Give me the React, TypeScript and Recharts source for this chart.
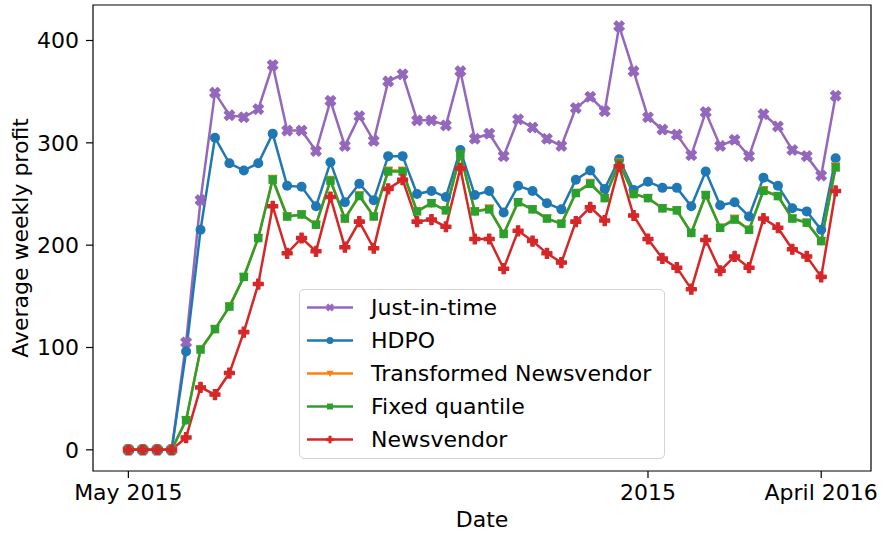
import React from 'react';
import { LineChart, Line, XAxis, YAxis, ReferenceArea, Legend } from 'recharts';

// weekly average profit per policy, first week = May 2015
const weekTicks = [0, 36, 48];
const weekTickLabels = ['May 2015', '2015', 'April 2016'];
const profitTicks = [0, 100, 200, 300, 400];

const justInTime = [
    0, 0, 0, 0, 105, 244, 349, 327, 325, 333,
    376, 312, 312, 292, 341, 297, 326, 302, 360, 367,
    322, 322, 317, 370, 304, 309, 287, 323, 315, 304,
    297, 334, 345, 331, 414, 370, 325, 313, 308, 288,
    330, 297, 303, 287, 328, 316, 293, 287, 268, 346,
];
const hdpo = [
    0, 0, 0, 0, 96, 215, 305, 280, 273, 280,
    309, 258, 257, 238, 281, 242, 260, 244, 287, 287,
    250, 253, 247, 293, 249, 253, 232, 258, 253, 241,
    235, 264, 273, 255, 284, 254, 262, 256, 256, 238,
    272, 239, 242, 228, 266, 258, 236, 233, 215, 285,
];
const transformedNewsvendor = [
    0, 0, 0, 0, 29, 98, 118, 140, 169, 207,
    265, 228, 230, 220, 264, 226, 249, 228, 273, 273,
    233, 241, 234, 289, 233, 236, 211, 242, 235, 226,
    221, 251, 261, 246, 281, 250, 246, 236, 234, 212,
    249, 217, 226, 215, 254, 248, 226, 222, 204, 277,
];
const fixedQuantile = [
    0, 0, 0, 0, 29, 98, 118, 140, 169, 207,
    264, 228, 230, 220, 263, 226, 248, 228, 272, 272,
    233, 241, 234, 289, 233, 235, 211, 242, 235, 226,
    221, 251, 260, 246, 280, 250, 246, 236, 234, 212,
    249, 217, 225, 215, 253, 248, 226, 222, 204, 276,
];
const newsvendor = [
    0, 0, 0, 0, 12, 61, 54, 75, 115, 162,
    238, 192, 207, 194, 247, 198, 223, 197, 255, 264,
    223, 225, 218, 275, 206, 206, 177, 214, 204, 192,
    183, 223, 237, 224, 277, 229, 206, 187, 178, 157,
    205, 175, 189, 178, 226, 217, 196, 189, 169, 253,
];

const data = justInTime.map((v, i) => ({
    week: i,
    jit: v,
    hdpo: hdpo[i],
    tnv: transformedNewsvendor[i],
    fq: fixedQuantile[i],
    nv: newsvendor[i],
}));

type Shape = 'x' | 'circle' | 'triangle' | 'square' | 'plus';

const series: { key: string; name: string; color: string; shape: Shape }[] = [
    { key: 'jit', name: 'Just-in-time', color: '#9467bd', shape: 'x' },
    { key: 'hdpo', name: 'HDPO', color: '#1f77b4', shape: 'circle' },
    { key: 'tnv', name: 'Transformed Newsvendor', color: '#ff7f0e', shape: 'triangle' },
    { key: 'fq', name: 'Fixed quantile', color: '#2ca02c', shape: 'square' },
    { key: 'nv', name: 'Newsvendor', color: '#d62728', shape: 'plus' },
];

const FONT = '"DejaVu Sans", sans-serif';
const tickStyle = { fontFamily: FONT, fontSize: 22, fill: '#000' };

// filled plus outline, half size s, arm half width s/3
const plusPoints = (s: number) => {
    const w = s / 3;
    return [
        [-w, -s], [w, -s], [w, -w], [s, -w], [s, w], [w, w],
        [w, s], [-w, s], [-w, w], [-s, w], [-s, -w], [-w, -w],
    ].map(([x, y]) => `${x},${y}`).join(' ');
};

const Marker = ({ shape, cx, cy, color, size = 10 }: { shape: Shape; cx: number; cy: number; color: string; size?: number }) => {
    const s = size / 2;
    const edge = size > 8 ? 1.2 : 0.6;
    if (cx == null || cy == null) return null;
    switch (shape) {
        case 'circle':
            return <circle cx={cx} cy={cy} r={s} fill={color} />;
        case 'square':
            return <rect x={cx - s * 0.85} y={cy - s * 0.85} width={s * 1.7} height={s * 1.7} fill={color} />;
        case 'triangle':
            return <polygon points={`${cx - s},${cy - s * 0.8} ${cx + s},${cy - s * 0.8} ${cx},${cy + s}`} fill={color} />;
        case 'plus':
            return (
                <polygon
                    transform={`translate(${cx},${cy})`}
                    points={plusPoints(s)}
                    fill={color}
                    stroke={color}
                    strokeWidth={edge}
                    strokeLinejoin="round"
                />
            );
        case 'x':
            return (
                <polygon
                    transform={`translate(${cx},${cy}) rotate(45)`}
                    points={plusPoints(s * 1.1)}
                    fill={color}
                    stroke={color}
                    strokeWidth={edge}
                    strokeLinejoin="round"
                />
            );
    }
    return null;
};

const renderLegend = () => (
    <div
        style={{
            boxSizing: 'border-box',
            width: 366,
            height: 170,
            border: '1.5px solid #d4d4d4',
            borderRadius: 5,
            background: 'rgba(255,255,255,0.8)',
            paddingTop: 1,
            fontFamily: FONT,
            fontSize: 22,
            color: '#000',
        }}
    >
        {series.map((s) => (
            <div key={s.key} style={{ display: 'flex', alignItems: 'center', height: 33 }}>
                <svg width={71} height={33}>
                    <line x1={7} x2={53} y1={16.5} y2={16.5} stroke={s.color} strokeWidth={2.5} />
                    <Marker shape={s.shape} cx={30} cy={16.5} color={s.color} size={7} />
                </svg>
                <span style={{ whiteSpace: 'nowrap' }}>{s.name}</span>
            </div>
        ))}
    </div>
);

export default function App() {
    return (
        <div style={{ position: 'absolute', left: 0, top: 0, width: 883, height: 534, background: '#fff' }}>
            <LineChart width={883} height={534} data={data} margin={{ top: 5, right: 12, bottom: 0, left: 0 }}>
                <ReferenceArea
                    x1={-2.45}
                    x2={51.45}
                    y1={-20.7}
                    y2={434.7}
                    fill="none"
                    stroke="#000"
                    strokeWidth={1.2}
                    ifOverflow="visible"
                />
                <XAxis
                    dataKey="week"
                    type="number"
                    domain={[-2.45, 51.45]}
                    allowDataOverflow
                    ticks={weekTicks}
                    interval={0}
                    tickFormatter={(v: number) => weekTickLabels[weekTicks.indexOf(v)] ?? ''}
                    height={63}
                    axisLine={false}
                    tickLine={{ stroke: '#000', strokeWidth: 1.2 }}
                    tickSize={7}
                    tickMargin={6}
                    tick={tickStyle}
                    label={{ value: 'Date', position: 'insideBottom', offset: 7, style: tickStyle }}
                />
                <YAxis
                    type="number"
                    domain={[-20.7, 434.7]}
                    allowDataOverflow
                    ticks={profitTicks}
                    interval={0}
                    width={93}
                    axisLine={false}
                    tickLine={{ stroke: '#000', strokeWidth: 1.2 }}
                    tickSize={7}
                    tickMargin={7}
                    tick={tickStyle}
                    label={{
                        value: 'Average weekly profit',
                        angle: -90,
                        position: 'insideLeft',
                        offset: 20,
                        style: { ...tickStyle, textAnchor: 'middle' },
                    }}
                />
                {series.map((s) => (
                    <Line
                        key={s.key}
                        dataKey={s.key}
                        name={s.name}
                        stroke={s.color}
                        strokeWidth={2.5}
                        isAnimationActive={false}
                        activeDot={false}
                        dot={(p: any) => <Marker key={`${s.key}-${p.index}`} shape={s.shape} cx={p.cx} cy={p.cy} color={s.color} />}
                    />
                ))}
                <Legend
                    layout="vertical"
                    align="center"
                    verticalAlign="middle"
                    content={renderLegend}
                    wrapperStyle={{ position: 'absolute', left: 299, top: 289, width: 366, height: 170 }}
                />
            </LineChart>
        </div>
    );
}
